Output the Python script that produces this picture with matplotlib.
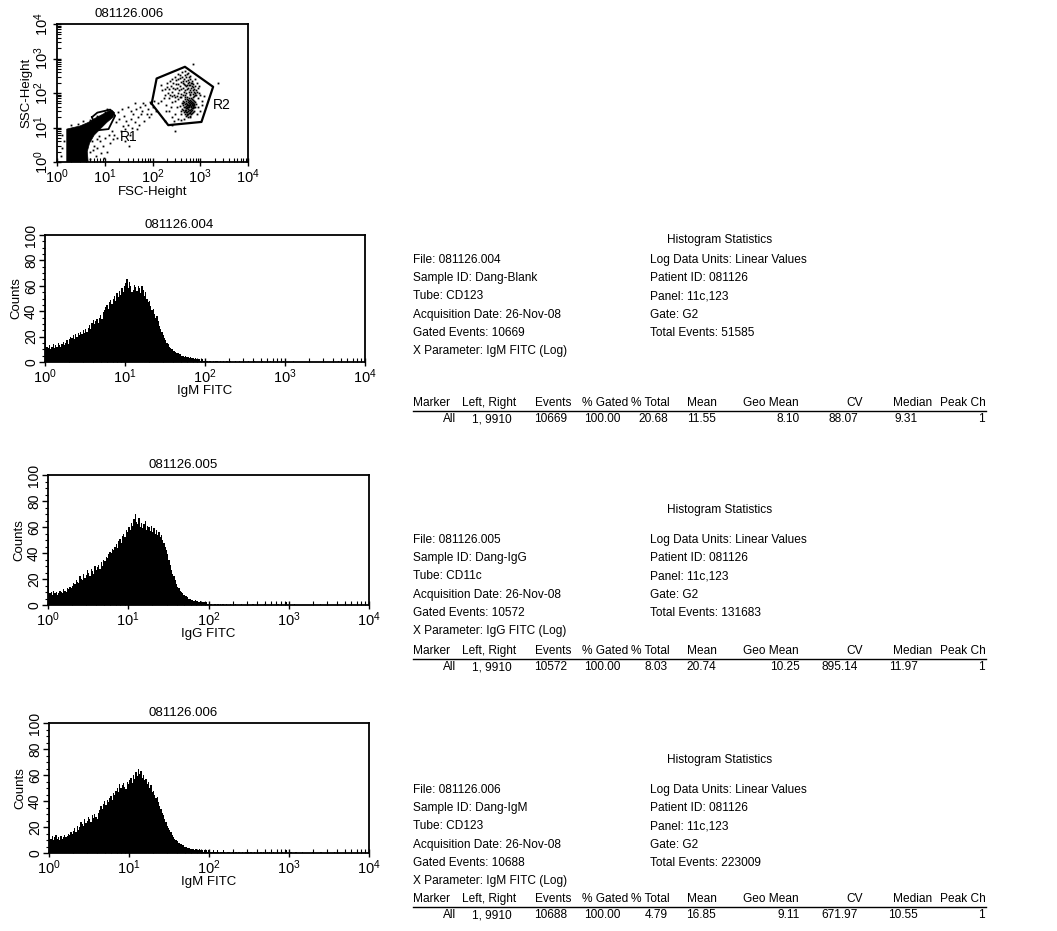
import numpy as np
import matplotlib
matplotlib.use('Agg')
import matplotlib.pyplot as plt
from matplotlib.ticker import LogLocator, NullFormatter, MultipleLocator

plt.rcParams['font.family'] = ['Liberation Sans', 'DejaVu Sans']
plt.rcParams['mathtext.default'] = 'regular'
plt.rcParams['font.size'] = 8.5

W, H = 1057, 931

# ---- dot plot (FSC / SSC) ----
dense_fsc = [1.6, 1.6, 2.2, 3, 4.5, 6.5, 9, 12, 14, 16, 15, 11, 8, 6, 4.8, 4.3, 4.5]
dense_ssc = [1, 9, 10, 11, 14, 19, 24, 30, 32, 27, 20, 14, 9, 6, 3.5, 2, 1]

dots = [
    (420, 35), (450, 28), (480, 40), (510, 32), (530, 45), (560, 30), (590, 38), (620, 27),
    (650, 42), (680, 33), (700, 50), (460, 55), (500, 60), (540, 25), (570, 52), (610, 48),
    (640, 58), (600, 22), (550, 20), (520, 23), (480, 24), (440, 45), (400, 30), (380, 42),
    (720, 36), (750, 45), (780, 55), (660, 65), (590, 70), (530, 75), (470, 68), (430, 60),
    (410, 50), (390, 25), (700, 28), (740, 30), (630, 35), (575, 43), (515, 50), (495, 36),
    (455, 38), (605, 55), (685, 47), (555, 62), (635, 72), (725, 60), (765, 38), (800, 48),
    (620, 20), (580, 26), (500, 28), (540, 36), (560, 40), (600, 33), (650, 25), (670, 55),
    (710, 42), (480, 48), (520, 38), (545, 55),
    (430, 32), (470, 30), (505, 42), (535, 28), (565, 35), (595, 45), (625, 40), (655, 30),
    (690, 38), (715, 52), (745, 48), (585, 58), (615, 63), (665, 45), (695, 62), (525, 65),
    (565, 24), (605, 28), (645, 50), (675, 27), (735, 40), (485, 33), (445, 52), (505, 22),
    (540, 48), (580, 32), (620, 44), (660, 37), (700, 44), (560, 46),
    (150, 60), (180, 90), (200, 150), (220, 70), (250, 110), (270, 200), (300, 130), (320, 80),
    (350, 250), (380, 160), (400, 95), (420, 300), (450, 180), (480, 120), (500, 220), (530, 350),
    (560, 140), (600, 260), (640, 110), (680, 190), (720, 150), (760, 90), (820, 120), (880, 70),
    (950, 100), (1100, 60), (160, 120), (190, 45), (230, 230), (260, 55), (290, 300), (310, 180),
    (340, 65), (360, 120), (390, 210), (410, 400), (440, 85), (460, 260), (490, 170), (510, 100),
    (550, 190), (580, 300), (620, 170), (660, 230), (700, 120), (740, 80), (790, 160), (850, 200),
    (900, 140), (1000, 90), (1200, 80), (240, 160), (280, 90), (330, 140), (370, 75), (430, 140),
    (470, 90), (520, 130), (570, 110), (610, 85), (650, 140), (690, 95), (730, 110), (200, 200),
    (210, 100), (260, 260), (300, 60), (350, 180), (380, 330), (440, 230), (500, 300), (540, 170),
    (590, 210), (760, 250), (820, 90), (150, 170), (170, 70),
    (180, 130), (230, 90), (265, 140), (290, 75), (315, 240), (345, 100), (375, 270), (395, 130),
    (425, 200), (455, 110), (475, 330), (515, 160), (545, 240), (575, 170), (605, 120), (635, 200),
    (665, 160), (705, 180), (745, 130), (785, 100), (560, 380), (470, 420), (620, 320), (350, 350),
    (220, 130), (255, 80), (400, 75), (480, 75), (600, 95), (700, 75), (860, 110), (930, 160),
    (250, 20), (300, 25), (350, 18), (280, 15), (220, 30), (400, 16), (450, 18), (330, 40),
    (190, 30), (240, 40), (900, 40), (1000, 30), (850, 25), (1100, 45),
    (2300, 200), (700, 700), (300, 8), (180, 15), (250, 12),
    (20, 18), (25, 22), (30, 12), (35, 30), (40, 25), (45, 35), (50, 20), (55, 40), (60, 30),
    (70, 45), (80, 35), (90, 55), (100, 40), (110, 60), (22, 8), (28, 15), (33, 6), (38, 10),
    (42, 14), (48, 9), (26, 4), (32, 3), (18, 5), (24, 11), (65, 15), (75, 25), (85, 20),
    (120, 30), (130, 50), (30, 40), (17, 14), (19, 28), (23, 35), (27, 9), (36, 18), (44, 50),
    (52, 12), (58, 25), (62, 50), (95, 25),
    (5, 2), (6, 3), (7, 2.5), (8, 4), (9, 3), (10, 5), (11, 2), (12, 6), (6.5, 1.5), (8.5, 1.8),
    (13, 3.5), (15, 4.5), (5.5, 4), (7.5, 5.5), (9.5, 1.3), (14, 8), (16, 6), (1.2, 1.5), (1.3, 2.5),
    (1.4, 4), (1.3, 6), (2, 12), (2.8, 13), (3.5, 15), (5, 17), (7, 22), (10, 29), (11, 34),
    (5.2, 7), (6.2, 9), (7.2, 12), (8.2, 15), (5, 1.2), (5.8, 2.2), (6.8, 4.5), (4.9, 5.5),
]

r1_fsc = [5.4, 7, 13, 16.5, 12, 7, 5.4]
r1_ssc = [20, 27, 33, 22, 9, 8.3, 20]
r2_fsc = [96, 122, 478, 1860, 1060, 214, 96]
r2_ssc = [49, 263, 575, 151, 14.5, 11.7, 49]

# ---- histograms: counts per channel, 64 channels per decade ----
hist_004 = [
    53, 12, 11, 13, 10, 12, 14, 11, 13, 12, 15, 13, 12, 14, 16, 13,
    15, 17, 14, 18, 20, 19, 21, 18, 22, 20, 23, 21, 24, 22, 25, 23,
    26, 24, 27, 29, 26, 31, 33, 30, 32, 34, 31, 35, 37, 34, 39, 41,
    43, 45, 42, 47, 49, 46, 50, 52, 48, 54, 51, 56, 53, 58, 55, 60,
    62, 65, 58, 63, 60, 55, 57, 61, 59, 56, 60, 58, 54, 60, 57, 52,
    55, 50, 47, 48, 44, 41, 42, 38, 35, 36, 32, 28, 26, 24, 21, 19,
    17, 15, 14, 12, 11, 10, 9, 9, 8, 7, 7, 6, 6, 5, 5, 4,
    5, 4, 4, 3, 4, 3, 3, 2, 3, 2, 2, 2, 1, 2, 1, 1,
    1, 1, 0, 1, 1, 0, 1, 0, 1, 1, 0, 0, 1, 0, 1, 0,
    0, 1, 0, 0, 1, 0, 0, 0, 1, 0, 0, 1, 0, 0, 0, 0,
    0, 0, 1, 0, 0, 0, 0, 1, 0, 0, 0, 0, 0, 1, 0, 0,
    0, 0, 0, 0, 1, 0, 0, 0, 0, 0, 0, 0, 0, 0, 1, 0,
    0, 0, 0, 0, 0, 0, 1, 0, 0, 0, 0, 0, 0, 0, 0, 0,
    0, 0, 0, 1, 0, 0, 0, 0, 0, 0, 0, 0, 0, 0, 0, 0,
    0, 0, 0, 0, 0, 0, 0, 0, 0, 0, 1, 0, 0, 0, 0, 0,
    0, 0, 0, 0, 0, 0, 0, 0, 0, 0, 0, 0, 0, 0, 0, 1,
]
hist_005 = [
    54, 9, 10, 8, 11, 9, 10, 8, 9, 11, 10, 9, 12, 11, 10, 13,
    12, 14, 13, 15, 17, 16, 19, 18, 17, 22, 20, 19, 24, 21, 23, 27,
    25, 22, 28, 26, 24, 30, 27, 29, 31, 28, 33, 30, 35, 34, 37, 36,
    39, 41, 40, 43, 42, 45, 47, 44, 49, 51, 48, 53, 55, 52, 58, 56,
    60, 58, 63, 61, 66, 70, 64, 62, 67, 60, 63, 59, 62, 65, 58, 61,
    60, 57, 61, 56, 59, 55, 58, 54, 56, 52, 54, 50, 48, 45, 42, 39,
    35, 31, 27, 24, 22, 19, 16, 14, 13, 11, 10, 9, 8, 7, 7, 6,
    5, 5, 4, 4, 3, 4, 3, 3, 2, 3, 2, 2, 2, 1, 2, 1,
    1, 1, 1, 0, 1, 1, 0, 1, 0, 1, 0, 1, 0, 0, 1, 0,
    0, 1, 0, 0, 0, 1, 0, 0, 0, 0, 1, 0, 0, 0, 0, 0,
    0, 0, 0, 1, 0, 0, 0, 0, 0, 0, 0, 0, 1, 0, 0, 0,
    0, 0, 0, 0, 0, 0, 0, 1, 0, 0, 0, 0, 0, 0, 2, 0,
    0, 0, 0, 0, 1, 0, 0, 0, 0, 0, 0, 0, 0, 0, 0, 0,
    0, 0, 0, 0, 0, 0, 0, 0, 0, 1, 0, 0, 0, 0, 0, 0,
    0, 0, 0, 0, 0, 0, 0, 0, 0, 0, 0, 0, 0, 0, 0, 0,
    0, 0, 0, 0, 0, 0, 0, 0, 0, 0, 0, 0, 0, 0, 0, 0,
]
hist_006 = [
    55, 11, 13, 10, 12, 14, 11, 12, 10, 13, 11, 12, 14, 12, 13, 15,
    14, 16, 15, 17, 19, 16, 21, 18, 20, 24, 22, 21, 26, 23, 25, 28,
    26, 24, 29, 27, 30, 28, 26, 31, 33, 36, 34, 38, 40, 37, 41, 39,
    42, 44, 41, 46, 45, 48, 50, 47, 53, 50, 52, 54, 51, 49, 55, 53,
    56, 58, 54, 60, 57, 62, 59, 65, 61, 63, 58, 60, 56, 57, 53, 55,
    50, 52, 47, 48, 45, 42, 43, 39, 36, 34, 31, 29, 26, 24, 21, 19,
    18, 16, 14, 12, 11, 10, 9, 8, 8, 7, 6, 6, 5, 5, 4, 4,
    4, 3, 3, 3, 2, 3, 2, 2, 3, 2, 2, 1, 2, 2, 1, 2,
    2, 1, 1, 2, 1, 1, 2, 1, 0, 1, 1, 2, 1, 0, 1, 1,
    1, 0, 1, 1, 0, 1, 0, 1, 1, 0, 1, 0, 0, 1, 0, 1,
    0, 1, 0, 0, 1, 0, 1, 0, 0, 1, 0, 1, 0, 0, 1, 0,
    1, 0, 0, 1, 0, 0, 1, 0, 0, 0, 1, 0, 0, 2, 0, 0,
    0, 1, 0, 0, 0, 1, 0, 0, 0, 0, 1, 0, 0, 0, 0, 0,
    0, 0, 1, 0, 0, 0, 0, 0, 0, 1, 0, 0, 0, 0, 0, 0,
    0, 0, 0, 0, 1, 0, 0, 0, 0, 0, 0, 0, 0, 0, 0, 0,
    0, 0, 0, 0, 0, 0, 1, 0, 0, 0, 0, 0, 0, 0, 0, 0,
]

# ---- statistics ----
files = ['081126.004', '081126.005', '081126.006']
sample_ids = ['Dang-Blank', 'Dang-IgG', 'Dang-IgM']
tubes = ['CD123', 'CD11c', 'CD123']
acq_dates = ['26-Nov-08', '26-Nov-08', '26-Nov-08']
gated_events = [10669, 10572, 10688]
x_params = ['IgM FITC (Log)', 'IgG FITC (Log)', 'IgM FITC (Log)']
x_labels = ['IgM FITC', 'IgG FITC', 'IgM FITC']
patient_ids = ['081126', '081126', '081126']
panels = ['11c,123', '11c,123', '11c,123']
gates = ['G2', 'G2', 'G2']
total_events = [51585, 131683, 223009]

markers = ['All', 'All', 'All']
left_right = ['1, 9910', '1, 9910', '1, 9910']
pct_gated = [100.00, 100.00, 100.00]
pct_total = [20.68, 8.03, 4.79]
means = [11.55, 20.74, 16.85]
geo_means = [8.10, 10.25, 9.11]
cvs = [88.07, 895.14, 671.97]
medians = [9.31, 11.97, 10.55]
peak_ch = [1, 1, 1]
col_heads = ['Marker', 'Left, Right', 'Events', '% Gated', '% Total', 'Mean',
             'Geo Mean', 'CV', 'Median', 'Peak Ch']


def fx(x):
    return x / W


def fy(y):
    return 1 - y / H


def style_log_x(ax):
    ax.set_xscale('log')
    ax.set_xlim(1, 1e4)
    ax.xaxis.set_major_locator(LogLocator(base=10, numticks=10))
    ax.xaxis.set_minor_locator(LogLocator(base=10, subs=np.arange(2, 10), numticks=20))
    ax.xaxis.set_minor_formatter(NullFormatter())
    ax.tick_params(axis='x', which='major', direction='inout', length=6, width=1, pad=1, labelsize=10.5)
    ax.tick_params(axis='x', which='minor', direction='in', length=3, width=0.8)


def frame(ax):
    for s in ax.spines.values():
        s.set_linewidth(1.3)


fig = plt.figure(figsize=(W / 100, H / 100), dpi=100)

# dot plot
ax = fig.add_axes([fx(57), fy(162), fx(248) - fx(57), fy(24) - fy(162)])
style_log_x(ax)
ax.set_yscale('log')
ax.set_ylim(1, 1e4)
ax.yaxis.set_major_locator(LogLocator(base=10, numticks=10))
ax.yaxis.set_minor_locator(LogLocator(base=10, subs=np.arange(2, 10), numticks=20))
ax.yaxis.set_minor_formatter(NullFormatter())
ax.tick_params(axis='y', which='major', direction='inout', length=6, width=1, pad=1, labelsize=10.5)
ax.tick_params(axis='y', which='minor', direction='in', length=3, width=0.8)
for lab in ax.get_yticklabels():
    lab.set_rotation(90)
    lab.set_va('center')
ax.fill(dense_fsc, dense_ssc, color='black', lw=0.5)
ax.plot([d[0] for d in dots], [d[1] for d in dots], 's', color='black', ms=1.3, mew=0)
ax.plot(r1_fsc, r1_ssc, color='black', lw=1.3)
ax.plot(r2_fsc, r2_ssc, color='black', lw=1.6)
ax.text(31, 5.3, 'R1', fontsize=10, ha='center', va='center')
ax.text(2770, 44, 'R2', fontsize=10, ha='center', va='center')
ax.set_xlabel('FSC-Height', fontsize=9.5, labelpad=0)
ax.set_ylabel('SSC-Height', fontsize=9.5, labelpad=0)
ax.text(0.38, 1.03, '081126.006', transform=ax.transAxes, ha='center', va='bottom', fontsize=9.5)
frame(ax)

# histograms
edges = 10 ** (np.arange(257) / 64)
hist_boxes = [(45, 365, 235, 362), (48, 369, 475, 605), (49, 369, 723, 853)]
hists = [hist_004, hist_005, hist_006]
for i in range(3):
    l, r, t, b = hist_boxes[i]
    ax = fig.add_axes([fx(l), fy(b), fx(r) - fx(l), fy(t) - fy(b)])
    ax.stairs(hists[i], edges, fill=True, color='black', baseline=0)
    style_log_x(ax)
    ax.set_ylim(0, 100)
    ax.yaxis.set_major_locator(MultipleLocator(20))
    ax.yaxis.set_minor_locator(MultipleLocator(5))
    ax.tick_params(axis='y', which='major', direction='out', length=4, width=1, pad=1, labelsize=10)
    ax.tick_params(axis='y', which='minor', direction='out', length=2, width=0.8)
    for lab in ax.get_yticklabels():
        lab.set_rotation(90)
        lab.set_va('center')
    ax.set_ylabel('Counts', fontsize=9.5, labelpad=1)
    ax.set_xlabel(x_labels[i], fontsize=9.5, labelpad=-1)
    ax.text(0.42, 1.03, files[i], transform=ax.transAxes, ha='center', va='bottom', fontsize=9.5)
    frame(ax)

# statistics text blocks
title_y = [240, 510, 760]
first_y = [260, 540, 790]
head_y = [403, 651, 899]
row_gap = 18.2
col_left = [413, 462, 535, 582, 631, 687, 743, 846, 893, 940]
col_right = [456, 512, 567, 620, 668, 716, 800, 858, 918, 985]
fs = 8.6
for i in range(3):
    fig.text(fx(720), fy(title_y[i]), 'Histogram Statistics', ha='center', va='center', fontsize=fs)
    left_lines = ['File: ' + files[i], 'Sample ID: ' + sample_ids[i], 'Tube: ' + tubes[i],
                  'Acquisition Date: ' + acq_dates[i], 'Gated Events: ' + str(gated_events[i]),
                  'X Parameter: ' + x_params[i]]
    right_lines = ['Log Data Units: Linear Values', 'Patient ID: ' + patient_ids[i],
                   'Panel: ' + panels[i], 'Gate: ' + gates[i],
                   'Total Events: ' + str(total_events[i])]
    for k, s in enumerate(left_lines):
        fig.text(fx(413), fy(first_y[i] + k * row_gap), s, ha='left', va='center', fontsize=fs)
    for k, s in enumerate(right_lines):
        fig.text(fx(650), fy(first_y[i] + k * row_gap), s, ha='left', va='center', fontsize=fs)
    for c, h in enumerate(col_heads):
        fig.text(fx(col_left[c]), fy(head_y[i]), h, ha='left', va='center', fontsize=fs)
    fig.add_artist(plt.Line2D([fx(413), fx(986)], [fy(head_y[i] + 8)] * 2, color='black', lw=1))
    row = [markers[i], left_right[i], str(gated_events[i]), '%.2f' % pct_gated[i],
           '%.2f' % pct_total[i], '%.2f' % means[i], '%.2f' % geo_means[i], '%.2f' % cvs[i],
           '%.2f' % medians[i], str(peak_ch[i])]
    for c, v in enumerate(row):
        fig.text(fx(col_right[c]), fy(head_y[i] + 16), v, ha='right', va='center', fontsize=fs)

fig.savefig('out.png', dpi=100)
